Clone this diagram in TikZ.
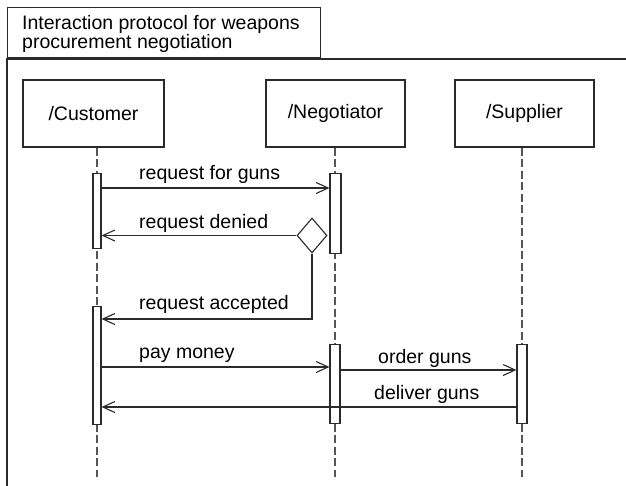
\documentclass[tikz,border=0pt]{standalone}
\usepackage{fontspec}
\setmainfont{Liberation Sans}
\usetikzlibrary{arrows.meta,shapes.geometric}
\definecolor{boxcol}{HTML}{2A2A2A}
\definecolor{lifecol}{HTML}{555555}
\begin{document}
\begin{tikzpicture}[x=1pt,y=-1pt,
  txt/.style={font=\fontsize{19.5}{22}\selectfont, inner sep=0pt, text=black},
  frame/.style={draw=boxcol, line width=1.3pt},
  lbox/.style={draw=boxcol, line width=1.3pt, fill=white, inner sep=0pt,
               font=\fontsize{19.5}{22}\selectfont},
  life/.style={draw=lifecol, line width=1.5pt, dash pattern=on 8pt off 3.5pt},
  act/.style={draw=boxcol, line width=1.1pt, fill=white, inner sep=0pt, anchor=north},
  msg/.style={draw=boxcol, line width=1.1pt, -{Straight Barb[length=12pt,width=11pt,line width=1.1pt]}},
  choice/.style={draw=boxcol, line width=1.1pt, fill=white, diamond, aspect=0.86,
                 inner sep=0pt, minimum width=30pt, minimum height=35pt}]
\useasboundingbox (0,0) rectangle (626,485);
% frame and title
\draw[frame] (626,59) -- (7,59) -- (7,486);
\node[frame, anchor=north west, minimum width=313pt, minimum height=50pt, inner sep=0pt] (title) at (7,7) {};
\node[txt, anchor=base west] (t1) at (22,29) {Interaction protocol for weapons};
\node[txt, anchor=base west] (t2) at (22,48) {procurement negotiation};
% lifeline heads
\node[lbox, minimum width=141pt, minimum height=67pt] (cust) at (93.5,113.5) {/Customer};
\node[lbox, minimum width=139pt, minimum height=67pt] (nego) at (335.5,113.5) {/Negotiator};
\node[lbox, minimum width=139pt, minimum height=67pt] (supp) at (524.5,113.5) {/Supplier};
% lifelines
\coordinate (cend) at (97,477);
\coordinate (nend) at (335,477);
\coordinate (send) at (522,477);
\draw[life] (cust.south -| cend) -- (cend);
\draw[life] (nego.south -| nend) -- (nend);
\draw[life] (supp.south -| send) -- (send);
% activations
\node[act, minimum width=8pt, minimum height=75pt] (ca1) at (97,173) {};
\node[act, minimum width=8pt, minimum height=118pt] (ca2) at (97,306) {};
\node[act, minimum width=11pt, minimum height=80pt] (na1) at (335.5,173) {};
\node[act, minimum width=10pt, minimum height=79pt] (na2) at (335,344) {};
\node[act, minimum width=10pt, minimum height=79pt] (sa) at (522,344) {};
% choice
\node[choice] (dia) at (312,235.5) {};
% messages
\draw[msg] ([yshift=-15pt]ca1.north east) -- ([yshift=-15pt]na1.north west);
\draw[msg] (dia.west) -- (dia.west -| ca1.east);
\path ([yshift=-13pt]ca2.north east) coordinate (ra);
\draw[msg] (dia.south) |- (ra);
\path ([yshift=-61pt]ca2.north east) coordinate (pm);
\draw[msg] (pm) -- (pm -| na2.west);
\path ([yshift=-26pt]na2.north east) coordinate (og);
\draw[msg] (og) -- (og -| sa.west);
\path ([yshift=-63pt]sa.north west) coordinate (dg);
\draw[msg] (dg) -- (dg -| ca2.east);
% labels
\node[txt, anchor=base west] (l1) at (139,179) {request for guns};
\node[txt, anchor=base west] (l2) at (139,228) {request denied};
\node[txt, anchor=base west] (l3) at (139,309) {request accepted};
\node[txt, anchor=base west] (l4) at (139,358) {pay money};
\node[txt, anchor=base west] (l5) at (378,363) {order guns};
\node[txt, anchor=base west] (l6) at (374,399) {deliver guns};
\end{tikzpicture}
\end{document}
